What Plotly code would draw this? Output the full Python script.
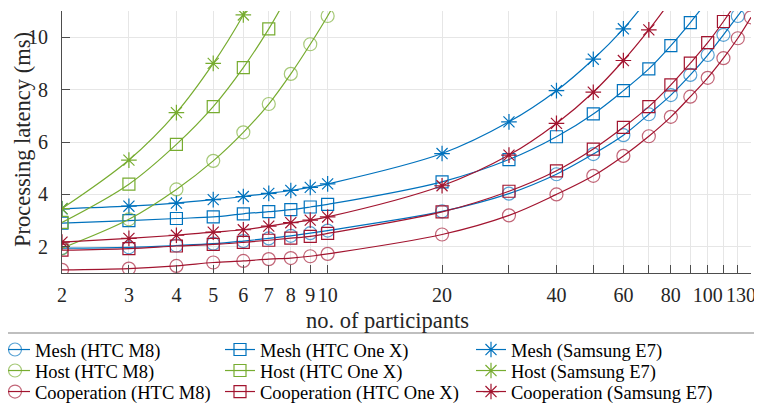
import plotly.graph_objects as go
import math

# ---------------- data ----------------
n_small = [2, 3, 4, 5, 6, 7, 8, 9, 10]
n_large = [20, 30, 40, 50, 60, 70, 80, 90, 100, 110, 120, 130]

# Mesh
mesh_m8_x = n_small + [20, 30, 40, 50, 60, 70, 80, 90, 100, 110, 120, 130]
mesh_m8_y = [1.95, 1.98, 2.05, 2.12, 2.22, 2.32, 2.42, 2.52, 2.62,
             3.35, 4.03, 4.77, 5.54, 6.26, 7.06, 7.79, 8.56, 9.32, 10.09, 10.81, 11.5]
mesh_onex_x = n_small + [20, 30, 40, 50, 60, 70, 80, 90, 100]
mesh_onex_y = [2.90, 3.00, 3.08, 3.14, 3.26, 3.34, 3.42, 3.52, 3.62,
               4.48, 5.33, 6.20, 7.07, 7.96, 8.79, 9.68, 10.56, 11.4]
mesh_e7_x = n_small + [20, 30, 40, 50, 60, 70]
mesh_e7_y = [3.45, 3.55, 3.67, 3.80, 3.92, 4.04, 4.15, 4.27, 4.40,
             5.56, 6.77, 7.96, 9.16, 10.32, 11.5]

# Host
host_m8_x = [2, 3, 4, 5, 6, 7, 8, 9, 10, 11]
host_m8_y = [1.95, 3.05, 4.19, 5.28, 6.37, 7.45, 8.60, 9.73, 10.81, 11.9]
host_onex_x = [2, 3, 4, 5, 6, 7, 8]
host_onex_y = [2.93, 4.39, 5.91, 7.35, 8.84, 10.32, 11.8]
host_e7_x = [2, 3, 4, 5, 6, 7]
host_e7_y = [3.46, 5.31, 7.12, 9.00, 10.85, 12.7]

# Cooperation
coop_m8_x = n_small + n_large
coop_m8_y = [1.12, 1.17, 1.27, 1.40, 1.46, 1.53, 1.57, 1.64, 1.73,
             2.47, 3.20, 4.00, 4.71, 5.47, 6.22, 6.96, 7.73, 8.45, 9.20, 9.96, 10.76]
coop_onex_x = n_small + [20, 30, 40, 50, 60, 70, 80, 90, 100, 110, 120]
coop_onex_y = [1.87, 1.93, 2.03, 2.09, 2.17, 2.25, 2.33, 2.40, 2.51,
               3.33, 4.12, 4.90, 5.73, 6.56, 7.35, 8.18, 9.01, 9.79, 10.60, 11.4]
coop_e7_x = n_small + [20, 30, 40, 50, 60, 70, 80]
coop_e7_y = [2.18, 2.32, 2.44, 2.56, 2.65, 2.79, 2.92, 3.02, 3.14,
             4.33, 5.50, 6.71, 7.90, 9.11, 10.28, 11.4]

x_tickvals = [2, 3, 4, 5, 6, 7, 8, 9, 10, 20, 30, 40, 50, 60, 70, 80, 90, 100, 110, 120, 130]
# the last label is padded with invisible characters so it sits left of the edge
x_ticktext = ["2", "3", "4", "5", "6", "7", "8", "9", "10", "20", "", "40", "", "60", "",
              "80", "", "100", "", "", "130<span style='color:rgba(0,0,0,0)'>00</span>"]
y_tickvals = [2, 4, 6, 8, 10]

names = ["Mesh (HTC M8)", "Mesh (HTC One X)", "Mesh (Samsung E7)",
         "Host (HTC M8)", "Host (HTC One X)", "Host (Samsung E7)",
         "Cooperation (HTC M8)", "Cooperation (HTC One X)", "Cooperation (Samsung E7)"]

# ---------------- style ----------------
BLUE = (0, 114, 189)
GREEN = (119, 172, 48)
RED = (162, 20, 47)
FONT = "Liberation Serif"

def rgb(c, a=1.0):
    return f"rgba({c[0]},{c[1]},{c[2]},{a})"

series = [
    (mesh_m8_x, mesh_m8_y, BLUE, "circle-open"),
    (mesh_onex_x, mesh_onex_y, BLUE, "square-open"),
    (mesh_e7_x, mesh_e7_y, BLUE, "asterisk-open"),
    (host_m8_x, host_m8_y, GREEN, "circle-open"),
    (host_onex_x, host_onex_y, GREEN, "square-open"),
    (host_e7_x, host_e7_y, GREEN, "asterisk-open"),
    (coop_m8_x, coop_m8_y, RED, "circle-open"),
    (coop_onex_x, coop_onex_y, RED, "square-open"),
    (coop_e7_x, coop_e7_y, RED, "asterisk-open"),
]

# the page places the figure 8px in from the top-left corner (body margin)
OFF = 8
PAGE_W, PAGE_H = 762, 405
W, H = PAGE_W - OFF, PAGE_H - OFF
# plot area in page pixels
P_L, P_R, P_T, P_B = 62, 751, 11, 273
ML, MR, MT, MB = P_L - OFF, (OFF + W) - P_R, P_T - OFF, (OFF + H) - P_B
pw = W - ML - MR
ph = H - MT - MB

def px2x(px):   # page px -> paper x
    return (px - P_L) / pw

def py2y(py):   # page py -> paper y
    return (P_B - py) / ph

fig = go.Figure()
legend_layout = {}
col_left = [-5, 220, 471]      # page px of each legend column's left edge
row_center = [350, 371, 392]   # page py of each legend row
for i, ((xs, ys, col, sym), name) in enumerate(zip(series, names)):
    lname = "legend" if i == 0 else f"legend{i+1}"
    if sym == "circle-open":
        msize, mcol = 13, rgb(col, 0.65)
    elif sym == "square-open":
        msize, mcol = 12, rgb(col, 1.0)
    else:
        msize, mcol = 13, rgb(col, 1.0)
    fig.add_trace(go.Scatter(
        x=xs, y=ys, name=name, mode="lines+markers",
        line=dict(color=rgb(col), width=1.2, shape="spline", smoothing=1.0),
        marker=dict(symbol=sym, size=msize, color=mcol, line=dict(color=mcol, width=1.2)),
        legend=lname, showlegend=True,
    ))
    r, c = divmod(i, 3)
    legend_layout[lname] = dict(
        xref="paper", yref="paper",
        x=px2x(col_left[c]), y=py2y(row_center[r]),
        xanchor="left", yanchor="middle",
        bgcolor="rgba(0,0,0,0)", borderwidth=0,
        font=dict(family=FONT, size=18.5, color="#000000"),
        itemwidth=30, orientation="v",
    )

fig.update_layout(
    width=W, height=H,
    margin=dict(l=ML, r=MR, t=MT, b=MB, autoexpand=False),
    paper_bgcolor="white", plot_bgcolor="white",
    font=dict(family=FONT, color="#262626"),
    **legend_layout,
    shapes=[dict(type="rect", xref="paper", yref="paper",
                 x0=px2x(5), x1=px2x(757), y0=py2y(333), y1=py2y(412),
                 line=dict(color="#808080", width=1.2), fillcolor="rgba(0,0,0,0)")],
    annotations=[
        dict(text="no. of participants", xref="paper", yref="paper",
             x=px2x(387), y=py2y(320), xanchor="center", yanchor="middle",
             showarrow=False, font=dict(family=FONT, size=22.5, color="#262626")),
        dict(text="Processing latency (ms)", xref="paper", yref="paper",
             x=px2x(22), y=py2y(140), xanchor="center", yanchor="middle", textangle=-90,
             showarrow=False, font=dict(family=FONT, size=22.5, color="#262626")),
    ],
)

fig.update_xaxes(
    type="log", range=[math.log10(2), math.log10(130)], automargin=False,
    tickvals=x_tickvals, ticktext=x_ticktext, tickangle=0,
    ticks="inside", ticklen=8, tickcolor="#4d4d4d", tickwidth=1,
    showline=True, linecolor="#4d4d4d", linewidth=1.2,
    showgrid=True, gridcolor="#e6e6e6", gridwidth=1, zeroline=False,
    tickfont=dict(family=FONT, size=20, color="#262626"),
    ticklabelstandoff=4, ticklabeloverflow="allow",
)
fig.update_yaxes(
    range=[1, 11], tickvals=y_tickvals, automargin=False,
    ticks="inside", ticklen=8, tickcolor="#4d4d4d", tickwidth=1,
    showline=True, linecolor="#4d4d4d", linewidth=1.2,
    showgrid=True, gridcolor="#e6e6e6", gridwidth=1, zeroline=False,
    tickfont=dict(family=FONT, size=20, color="#262626"),
    ticklabelstandoff=9,
)

fig.write_html("out.html")
